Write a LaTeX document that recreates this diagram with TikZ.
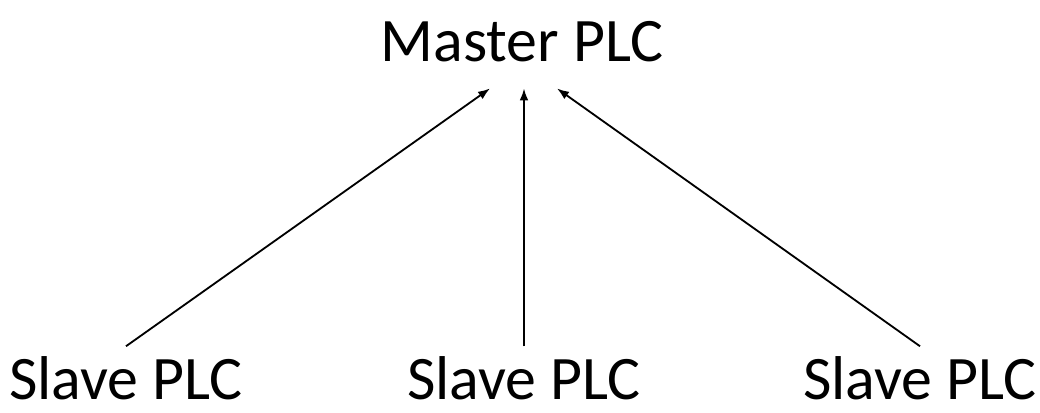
\documentclass[tikz,border=0pt]{standalone}
\usepackage{fontspec}
\setmainfont{Carlito}
\usepackage{tikz}
\usetikzlibrary{arrows.meta}

\begin{document}
\begin{tikzpicture}[
  plc/.style={inner sep=0pt,anchor=base,font=\fontsize{44}{50}\selectfont},
  link/.style={-{Latex[length=3mm,width=2.2mm]},line width=1.3pt}]
\useasboundingbox (0,0) rectangle (26,10.3);
\node[plc,outer ysep=0.65cm] (master) at (13.05,8.75) {Master PLC};
\node[plc,outer ysep=0.25cm] (slaveA) at (3.15,0.32) {Slave PLC};
\node[plc,outer ysep=0.25cm] (slaveB) at (13.1,0.32) {Slave PLC};
\node[plc,outer ysep=0.25cm] (slaveC) at (23.0,0.32) {Slave PLC};
\draw[link] (slaveA.north) -- ([xshift=-0.8cm]master.south);
\draw[link] (slaveB.north) -- (slaveB.north |- master.south);
\draw[link] (slaveC.north) -- ([xshift=0.875cm]master.south);
\end{tikzpicture}
\end{document}
